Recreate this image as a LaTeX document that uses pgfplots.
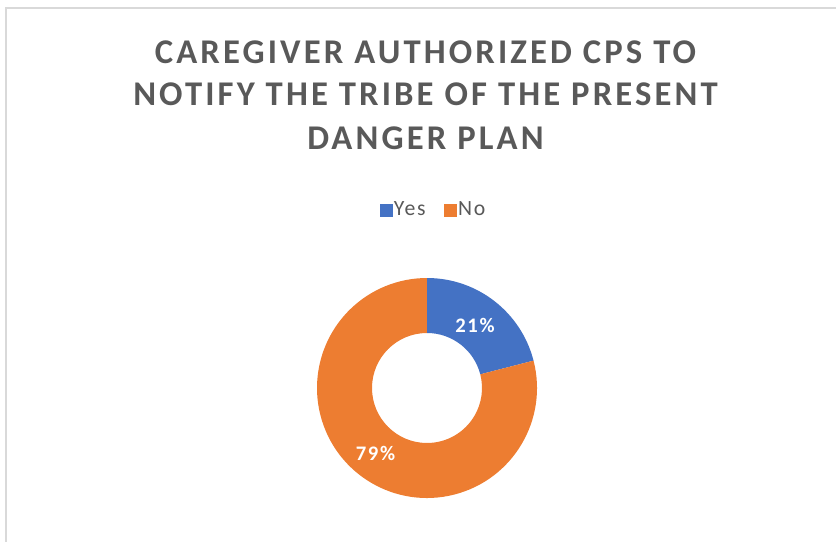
\documentclass[border=0pt]{standalone}
\usepackage{pgfplots}
\usepackage{pgfplotstable}
\pgfplotsset{compat=1.18}
\usepackage{fontspec}
\setmainfont{Carlito}
\newfontfamily\titlefont[LetterSpace=9]{Carlito}
\newfontfamily\spacedfont[LetterSpace=8]{Carlito}
\definecolor{yesblue}{HTML}{4472C4}
\definecolor{noorange}{HTML}{ED7D31}
\definecolor{txtgray}{HTML}{595959}
\definecolor{framegray}{HTML}{D9D9D9}
\pgfplotstableread{
label value
Yes 21
No 79
}\donutdata
\begin{document}
\begin{tikzpicture}
\pgfplotstablegetelem{0}{value}\of\donutdata \let\yesval\pgfplotsretval
\pgfplotstablegetelem{1}{value}\of\donutdata \let\noval\pgfplotsretval
\pgfmathsetmacro{\total}{\yesval+\noval}
\pgfmathsetmacro{\splitang}{90-\yesval/\total*360}
\pgfmathsetmacro{\noend}{\splitang-\noval/\total*360}
\begin{axis}[
  scale only axis, width=627pt, height=406.5pt,
  xmin=0, xmax=836, ymin=0, ymax=542, y dir=reverse,
  hide axis, clip=false,
  legend columns=2,
  legend style={at={(axis cs:380,210)}, anchor=west, draw=none, fill=none,
    inner sep=0pt, outer sep=0pt,
    font=\spacedfont\fontsize{16.3pt}{19pt}\selectfont\color{txtgray},
    nodes={inner sep=1pt},
    /tikz/every odd column/.style={column sep=0pt},
    /tikz/every even column/.style={column sep=13pt}},
]
\path[use as bounding box] (axis cs:0,0) rectangle (axis cs:836,542);
\draw[framegray, line width=1.1pt] (axis cs:836,8) -- (axis cs:6,8) -- (axis cs:6,542);
\addlegendimage{legend image code/.code={\fill[yesblue] (0pt,-4.5pt) rectangle (9pt,4.5pt);}}
\addlegendentry{Yes}
\addlegendimage{legend image code/.code={\fill[noorange] (0pt,-4.5pt) rectangle (9pt,4.5pt);}}
\addlegendentry{No}
\coordinate (c) at (axis cs:427,388);
\fill[yesblue] ([shift={(90:82.5pt)}]c) arc[start angle=90, end angle=\splitang, radius=82.5pt]
  -- ([shift={(\splitang:41.25pt)}]c) arc[start angle=\splitang, end angle=90, radius=41.25pt] -- cycle;
\fill[noorange] ([shift={(\splitang:82.5pt)}]c) arc[start angle=\splitang, end angle=\noend, radius=82.5pt]
  -- ([shift={(\noend:41.25pt)}]c) arc[start angle=\noend, end angle=\splitang, radius=41.25pt] -- cycle;
\node[white, font=\spacedfont\bfseries\fontsize{15.5pt}{18pt}\selectfont] at (axis cs:475,325.5) {\yesval\%};
\node[white, font=\spacedfont\bfseries\fontsize{15.5pt}{18pt}\selectfont] at (axis cs:375.5,453) {\noval\%};
\node[txtgray, anchor=base, font=\titlefont\bfseries\fontsize{26pt}{30pt}\selectfont] at (axis cs:425.5,64) {CAREGIVER AUTHORIZED CPS TO};
\node[txtgray, anchor=base, font=\titlefont\bfseries\fontsize{26pt}{30pt}\selectfont] at (axis cs:425.5,106) {NOTIFY THE TRIBE OF THE PRESENT};
\node[txtgray, anchor=base, font=\titlefont\bfseries\fontsize{26pt}{30pt}\selectfont] at (axis cs:425.5,149) {DANGER PLAN};
\end{axis}
\end{tikzpicture}
\end{document}
